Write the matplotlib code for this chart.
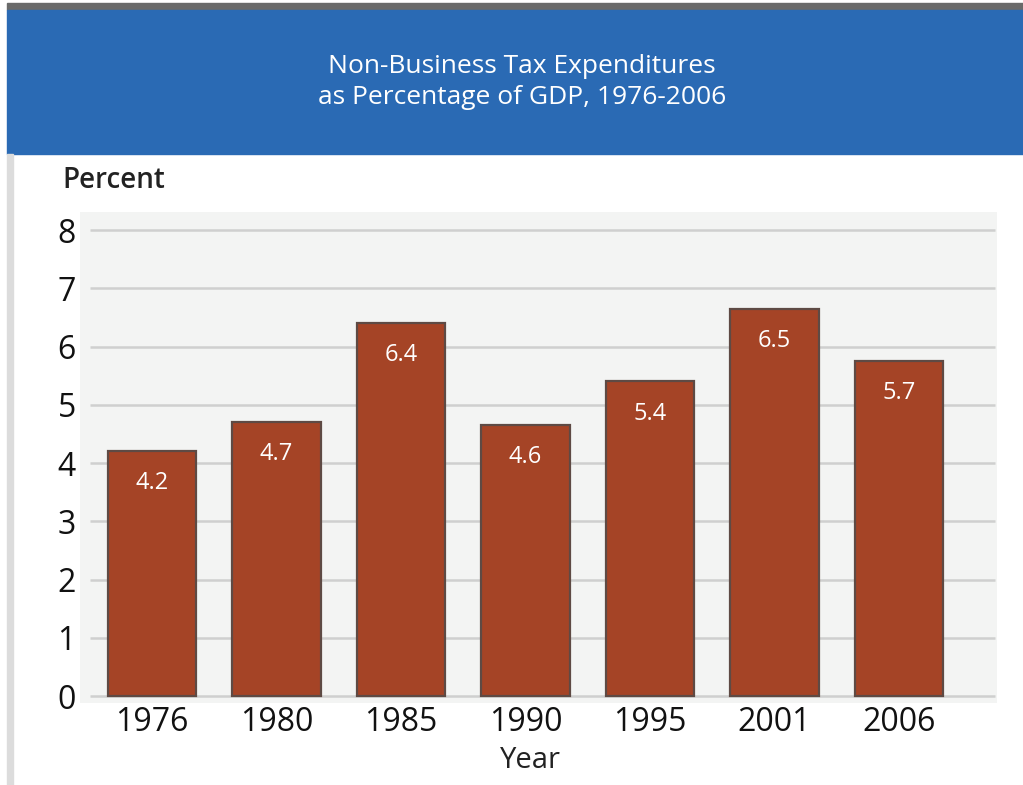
import matplotlib.pyplot as plt
from matplotlib.patches import Rectangle

years = ['1976', '1980', '1985', '1990', '1995', '2001', '2006']
# bar heights as drawn in the picture
heights = [4.2, 4.7, 6.4, 4.65, 5.4, 6.65, 5.75]
# value labels printed inside the bars
labels = ['4.2', '4.7', '6.4', '4.6', '5.4', '6.5', '5.7']
yticks = [0, 1, 2, 3, 4, 5, 6, 7, 8]

W, H = 1023, 785
fig = plt.figure(figsize=(W / 100, H / 100), dpi=100)
fig.patch.set_facecolor('white')

def px(x0, y0, x1, y1):
    # pixel box -> figure fraction (left, bottom, width, height)
    return x0 / W, 1 - y1 / H, (x1 - x0) / W, (y1 - y0) / H

def band(box, color):
    l, b, w, h = px(*box)
    fig.patches.append(Rectangle((l, b), w, h, transform=fig.transFigure,
                                 color=color, zorder=0))

# header band, top grey strip and left strip
band((7, 3, 1023, 10), '#6a6a6a')
band((7, 10, 1023, 154), '#2a6ab4')
band((7, 154, 13, 785), '#dcdcdc')

fig.text(522 / W, 1 - 82 / H, 'Non-Business Tax Expenditures\nas Percentage of GDP, 1976-2006',
         ha='center', va='center', color='white', fontsize=19, family='Open Sans',
         linespacing=1.3)

ax = fig.add_axes(px(80, 212, 997, 703))
ax.set_facecolor('#f3f4f3')
x = list(range(len(years)))

ax.hlines(yticks, -0.5, 6.77, color='#cfcfcf', linewidth=1.8, zorder=1)
ax.bar(x, heights, width=0.71, color='#a54426', edgecolor='#5e4a44',
       linewidth=1.6, zorder=2)
for xi, h, lab in zip(x, heights, labels):
    ax.text(xi, h - 0.55, lab, ha='center', va='center', color='white',
            fontsize=17, family='Open Sans', zorder=3)

ax.set_xlim(-0.578, 6.787)
ax.set_ylim(-0.12, 8.31)
ax.set_xticks(x)
ax.set_xticklabels(years)
ax.set_yticks(yticks)
ax.tick_params(length=0, labelsize=23, pad=3)
ax.tick_params(axis='x', pad=2)
for t in ax.get_xticklabels() + ax.get_yticklabels():
    t.set_family('Open Sans')
    t.set_color('#111111')
for s in ax.spines.values():
    s.set_visible(False)

fig.text(62 / W, 1 - 180 / H, 'Percent', ha='left', va='center', fontsize=20,
         family='Open Sans', fontweight='semibold', color='#222222')
fig.text(530 / W, 1 - 760 / H, 'Year', ha='center', va='center', fontsize=21,
         family='Open Sans', color='#222222')

fig.savefig('out.png', dpi=100)
